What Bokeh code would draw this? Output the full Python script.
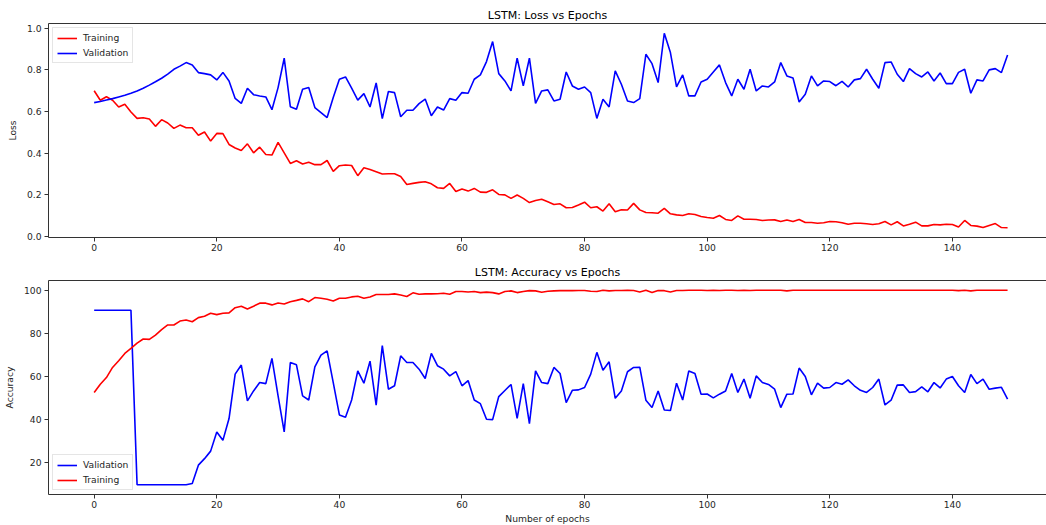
from bokeh.plotting import figure
from bokeh.layouts import column
from bokeh.models import Range1d, FixedTicker, PrintfTickFormatter, LinearAxis, Legend, LegendItem
from bokeh.embed import file_html
from bokeh.resources import INLINE

epochs = list(range(150))

train_loss = [
    0.700, 0.654, 0.671, 0.654, 0.622, 0.635, 0.598, 0.567, 0.570, 0.564,
    0.529, 0.561, 0.545, 0.519, 0.535, 0.522, 0.522, 0.486, 0.502, 0.458,
    0.495, 0.494, 0.442, 0.425, 0.413, 0.445, 0.402, 0.429, 0.394, 0.391,
    0.452, 0.402, 0.351, 0.364, 0.348, 0.357, 0.345, 0.345, 0.365, 0.313,
    0.340, 0.343, 0.341, 0.292, 0.330, 0.322, 0.311, 0.300, 0.301, 0.301,
    0.288, 0.250, 0.255, 0.260, 0.263, 0.253, 0.234, 0.231, 0.255, 0.216,
    0.228, 0.218, 0.231, 0.213, 0.212, 0.224, 0.202, 0.200, 0.183, 0.199,
    0.183, 0.163, 0.173, 0.179, 0.167, 0.154, 0.157, 0.138, 0.139, 0.151,
    0.165, 0.138, 0.143, 0.122, 0.157, 0.119, 0.128, 0.127, 0.159, 0.128,
    0.115, 0.114, 0.112, 0.135, 0.109, 0.104, 0.101, 0.109, 0.106, 0.096,
    0.091, 0.088, 0.101, 0.082, 0.077, 0.099, 0.083, 0.083, 0.082, 0.077,
    0.079, 0.080, 0.072, 0.079, 0.072, 0.082, 0.067, 0.067, 0.064, 0.066,
    0.072, 0.071, 0.066, 0.059, 0.064, 0.064, 0.061, 0.058, 0.061, 0.072,
    0.056, 0.071, 0.051, 0.059, 0.069, 0.051, 0.051, 0.058, 0.056, 0.059,
    0.058, 0.046, 0.077, 0.053, 0.050, 0.043, 0.053, 0.062, 0.043, 0.042,
]

val_loss = [
    0.643, 0.648, 0.655, 0.662, 0.670, 0.678, 0.688, 0.699, 0.712, 0.727,
    0.743, 0.760, 0.780, 0.803, 0.818, 0.835, 0.824, 0.787, 0.782, 0.776,
    0.752, 0.788, 0.747, 0.663, 0.639, 0.712, 0.681, 0.675, 0.670, 0.609,
    0.715, 0.856, 0.623, 0.611, 0.707, 0.715, 0.619, 0.595, 0.571, 0.667,
    0.755, 0.766, 0.712, 0.655, 0.686, 0.622, 0.737, 0.566, 0.696, 0.691,
    0.575, 0.606, 0.606, 0.638, 0.660, 0.580, 0.622, 0.607, 0.662, 0.654,
    0.691, 0.688, 0.755, 0.776, 0.840, 0.936, 0.782, 0.747, 0.699, 0.856,
    0.723, 0.856, 0.639, 0.699, 0.704, 0.651, 0.659, 0.790, 0.723, 0.707,
    0.718, 0.691, 0.567, 0.659, 0.622, 0.795, 0.731, 0.651, 0.643, 0.662,
    0.875, 0.830, 0.739, 0.976, 0.883, 0.718, 0.776, 0.675, 0.675, 0.742,
    0.755, 0.790, 0.824, 0.739, 0.675, 0.755, 0.707, 0.803, 0.699, 0.723,
    0.718, 0.742, 0.835, 0.771, 0.761, 0.646, 0.683, 0.771, 0.723, 0.747,
    0.744, 0.724, 0.745, 0.718, 0.752, 0.758, 0.803, 0.755, 0.712, 0.835,
    0.838, 0.779, 0.744, 0.806, 0.782, 0.766, 0.790, 0.747, 0.785, 0.734,
    0.734, 0.788, 0.803, 0.688, 0.752, 0.747, 0.800, 0.806, 0.787, 0.872,
]

val_acc = [
    90.7, 90.7, 90.7, 90.7, 90.7, 90.7, 90.7, 9.8, 9.8, 9.8,
    9.8, 9.8, 9.8, 9.8, 9.8, 9.8, 10.4, 18.9, 21.9, 25.4,
    34.3, 30.4, 40.5, 61.1, 65.3, 48.7, 53.3, 57.2, 56.7, 68.4,
    51.0, 34.3, 66.5, 65.4, 51.0, 49.1, 64.5, 69.9, 71.9, 57.2,
    42.2, 41.1, 49.1, 62.6, 56.9, 67.1, 46.7, 74.3, 54.1, 55.7,
    69.6, 66.5, 66.5, 63.4, 59.1, 70.7, 65.0, 63.4, 60.3, 62.3,
    55.7, 58.1, 49.1, 47.4, 40.2, 40.0, 50.7, 53.5, 56.3, 40.6,
    56.7, 38.1, 62.6, 57.2, 56.7, 64.2, 61.4, 47.9, 53.6, 53.8,
    54.9, 61.1, 71.2, 62.9, 66.8, 49.9, 53.3, 62.2, 64.2, 64.3,
    49.0, 45.6, 53.3, 44.5, 44.2, 56.9, 49.1, 62.6, 61.4, 51.8,
    51.9, 50.1, 51.8, 53.3, 61.4, 52.6, 58.8, 49.9, 60.3, 57.2,
    56.3, 54.1, 45.6, 51.8, 51.9, 63.9, 60.0, 51.5, 56.9, 54.6,
    54.9, 57.2, 56.4, 58.4, 55.7, 53.6, 52.6, 54.9, 58.8, 46.8,
    49.0, 56.0, 56.1, 52.6, 53.0, 55.2, 52.9, 57.2, 54.7, 58.8,
    60.0, 55.7, 52.6, 60.9, 56.7, 58.8, 54.1, 54.6, 55.0, 49.5,
]

train_acc = [
    52.6, 56.4, 59.5, 64.2, 67.3, 70.7, 73.0, 75.5, 77.4, 77.2,
    79.2, 81.7, 83.9, 83.9, 85.7, 86.2, 85.4, 87.3, 87.9, 89.3,
    88.7, 89.3, 89.5, 91.9, 92.6, 91.3, 92.6, 94.0, 94.0, 93.2,
    94.1, 93.6, 94.7, 95.3, 96.0, 94.7, 96.6, 96.3, 95.8, 95.0,
    96.3, 96.3, 96.9, 97.2, 96.3, 96.9, 98.0, 98.0, 98.0, 98.3,
    97.8, 97.1, 98.8, 98.1, 98.3, 98.3, 98.4, 98.6, 98.1, 99.4,
    99.4, 99.2, 99.4, 98.9, 99.1, 98.9, 98.3, 99.4, 99.7, 98.9,
    99.4, 99.8, 99.7, 99.1, 99.5, 99.7, 99.8, 99.8, 99.8, 99.9,
    99.9, 99.5, 99.4, 100.0, 99.7, 99.9, 99.9, 100.0, 99.9, 99.2,
    100.0, 98.9, 99.9, 99.8, 99.2, 99.9, 99.9, 100.0, 100.0, 100.0,
    99.9, 100.0, 99.9, 100.0, 100.0, 99.9, 100.0, 99.9, 100.0, 100.0,
    100.0, 100.0, 100.0, 99.7, 100.0, 100.0, 100.0, 100.0, 100.0, 100.0,
    100.0, 100.0, 100.0, 100.0, 100.0, 100.0, 100.0, 100.0, 100.0, 100.0,
    100.0, 100.0, 100.0, 100.0, 100.0, 100.0, 100.0, 100.0, 100.0, 100.0,
    100.0, 99.8, 100.0, 99.7, 100.0, 100.0, 100.0, 100.0, 100.0, 100.0,
]

x_ticks = [0, 20, 40, 60, 80, 100, 120, 140]
loss_ticks = [0.0, 0.2, 0.4, 0.6, 0.8, 1.0]
acc_ticks = [20, 40, 60, 80, 100]

FONT = "DejaVu Sans"
AX = "#333333"
TXT = "#262626"


def padded(*series):
    lo = min(min(s) for s in series)
    hi = max(max(s) for s in series)
    pad = 0.05 * (hi - lo)
    return Range1d(lo - pad, hi + pad)


def style_axis(ax):
    ax.axis_line_color = AX
    ax.axis_line_width = 1
    ax.major_tick_line_color = AX
    ax.major_tick_out = 4
    ax.major_tick_in = 0
    ax.minor_tick_line_color = None
    ax.major_label_text_font = FONT
    ax.major_label_text_font_size = "9.2px"
    ax.major_label_text_color = TXT
    ax.major_label_standoff = 2
    ax.axis_label_text_font = FONT
    ax.axis_label_text_font_size = "9.2px"
    ax.axis_label_text_font_style = "normal"
    ax.axis_label_text_color = TXT
    ax.axis_label_standoff = 2


def make_fig(title, top, bottom, yrange, yticks, ylabel, xlabel):
    p = figure(frame_width=998, frame_height=214, title=title,
               x_range=Range1d(-7.45, 155.35), y_range=yrange,
               output_backend="svg", toolbar_location=None,
               min_border_left=48, min_border_right=0,
               min_border_top=top, min_border_bottom=bottom)
    p.title.align = "center"
    p.title.text_font = FONT
    p.title.text_font_size = "11px"
    p.title.text_font_style = "normal"
    p.title.text_color = "#000000"
    p.title.standoff = 4
    p.xgrid.visible = False
    p.ygrid.visible = False
    p.outline_line_color = None
    p.background_fill_color = "white"
    p.xaxis.ticker = FixedTicker(ticks=x_ticks)
    p.yaxis.ticker = FixedTicker(ticks=yticks)
    p.yaxis.axis_label = ylabel
    if xlabel:
        p.xaxis.axis_label = xlabel
    style_axis(p.xaxis[0])
    style_axis(p.yaxis[0])
    p.yaxis[0].major_label_standoff = 3
    p.yaxis[0].axis_label_standoff = 6
    top_axis = LinearAxis(ticker=FixedTicker(ticks=[]), major_label_text_font_size="0px",
                          major_tick_out=0, major_tick_in=0, major_label_standoff=0,
                          minor_tick_line_color=None, axis_line_color=AX)
    p.add_layout(top_axis, "above")
    return p


p1 = make_fig("LSTM: Loss vs Epochs", 23, 21, padded(train_loss, val_loss),
              loss_ticks, "Loss", None)
p1.yaxis.formatter = PrintfTickFormatter(format="%.1f")
r_tl = p1.line(epochs, train_loss, line_color="#ff0000", line_width=1.6)
r_vl = p1.line(epochs, val_loss, line_color="#0000ff", line_width=1.6)
leg1 = Legend(items=[LegendItem(label="Training", renderers=[r_tl]),
                     LegendItem(label="Validation", renderers=[r_vl])],
              location="top_left")

p2 = make_fig("LSTM: Accuracy vs Epochs", 22, 28, padded(train_acc, val_acc),
              acc_ticks, "Accuracy", "Number of epochs")
r_va = p2.line(epochs, val_acc, line_color="#0000ff", line_width=1.6)
r_ta = p2.line(epochs, train_acc, line_color="#ff0000", line_width=1.6)
leg2 = Legend(items=[LegendItem(label="Validation", renderers=[r_va]),
                     LegendItem(label="Training", renderers=[r_ta])],
              location="bottom_left")

for p, leg in ((p1, leg1), (p2, leg2)):
    leg.label_text_font = FONT
    leg.label_text_font_size = "9.2px"
    leg.label_text_color = TXT
    leg.border_line_color = "#cccccc"
    leg.border_line_width = 1
    leg.background_fill_alpha = 0.8
    leg.padding = 4
    leg.spacing = 4
    leg.margin = 4
    leg.glyph_width = 20
    leg.glyph_height = 10
    leg.label_height = 10
    leg.label_standoff = 6
    p.add_layout(leg)

layout = column(p1, p2, spacing=0)
open("out.html", "w").write(file_html(layout, INLINE))
